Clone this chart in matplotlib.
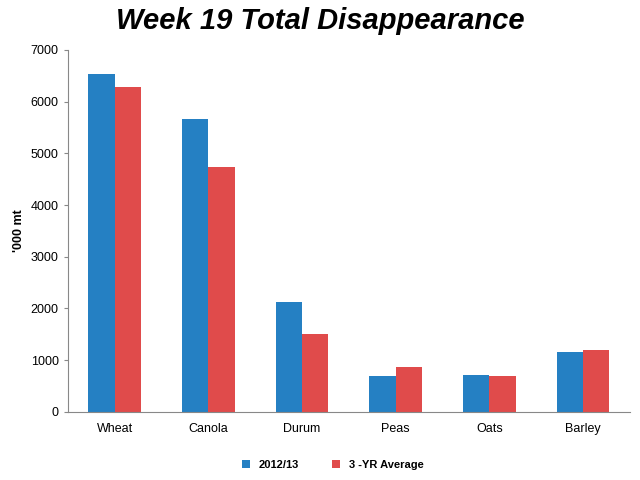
import matplotlib
matplotlib.use("Agg")
import matplotlib.pyplot as plt
import numpy as np

categories = ["Wheat", "Canola", "Durum", "Peas", "Oats", "Barley"]
s2012 = [6540, 5670, 2130, 700, 720, 1160]
avg3 = [6290, 4740, 1510, 870, 700, 1200]
series_names = ["2012/13", "3 -YR Average"]

fig = plt.figure(figsize=(6.4, 4.8), dpi=100)
ax = fig.add_axes([0.106, 0.142, 0.878, 0.754])
x = np.arange(len(categories))
w = 0.28
ax.bar(x - w/2, s2012, w, color="#2580C3", label=series_names[0])
ax.bar(x + w/2, avg3, w, color="#E04B4B", label=series_names[1])
ax.set_xlim(-0.5, len(categories) - 0.5)
ax.set_ylim(0, 7000)
ax.set_yticks(range(0, 7001, 1000))
ax.set_xticks(x)
ax.set_xticklabels(categories, fontname="Liberation Sans", fontsize=9)
for t in ax.get_yticklabels():
    t.set_fontsize(9)
    t.set_fontname("Liberation Sans")
ax.set_ylabel("'000 mt", fontweight="bold", fontsize=9, fontname="Liberation Sans")
for s in ["top", "right"]:
    ax.spines[s].set_visible(False)
ax.spines["left"].set_color("#888888")
ax.spines["bottom"].set_color("#888888")
ax.tick_params(axis="x", length=0, pad=8)
ax.tick_params(axis="y", length=3, color="#888888")
fig.suptitle("Week 19 Total Disappearance", fontsize=21, fontweight="bold",
             fontstyle="italic", y=0.985, fontname="Liberation Sans")
fig.legend(loc="lower center", ncol=2, frameon=False, bbox_to_anchor=(0.52, 0.0),
           prop={"family": "Liberation Sans", "weight": "bold", "size": 8},
           handlelength=0.7, handleheight=0.7, columnspacing=3)
fig.savefig("out.png", dpi=100)
